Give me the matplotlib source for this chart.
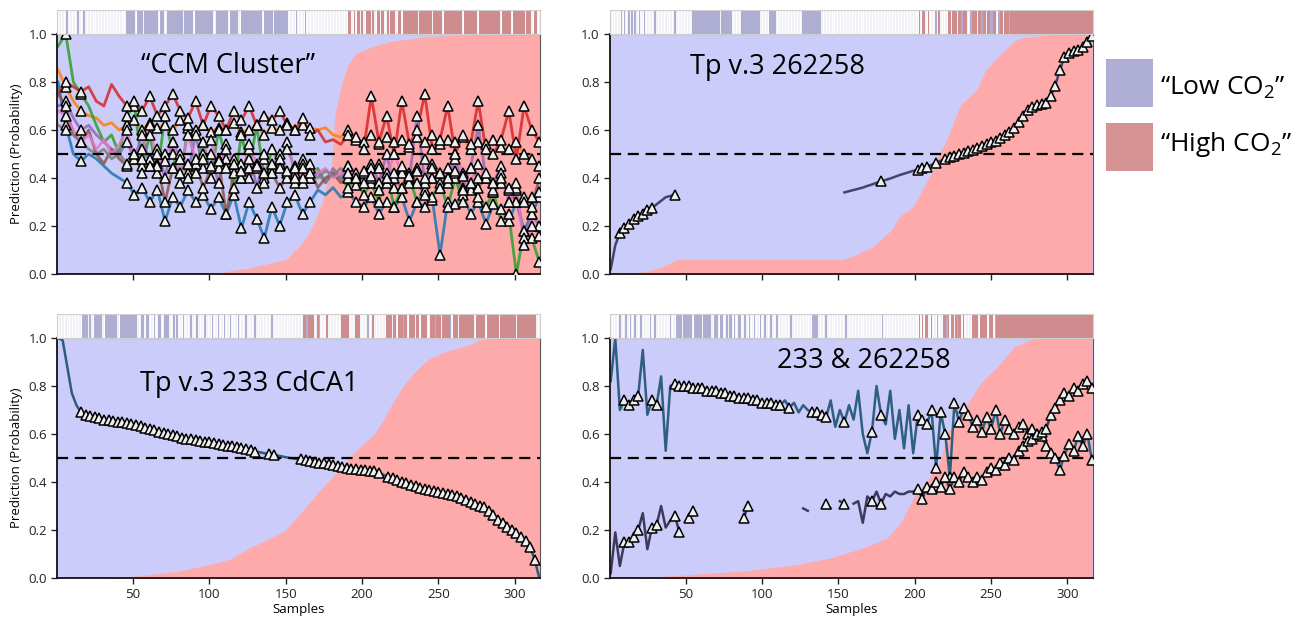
import numpy as np
import matplotlib
matplotlib.use("Agg")
import matplotlib.pyplot as plt
from matplotlib.patches import Rectangle

plt.rcParams["font.family"] = ["Open Sans", "DejaVu Sans"]
plt.rcParams["mathtext.fontset"] = "custom"
plt.rcParams["mathtext.rm"] = "Open Sans"
plt.rcParams["mathtext.it"] = "Open Sans:italic"

nan = np.nan
N = 316

# ---------------- data ----------------
# probability of "High CO2" (red area), knots (sample, value)
TL_RED_X = [1, 100, 126, 150, 161, 166, 173, 180, 182, 187, 191, 196, 208, 220, 243, 267, 316]
TL_RED_Y = [0, 0, 0.025, 0.06, 0.13, 0.18, 0.28, 0.45, 0.66, 0.80, 0.875, 0.92, 0.95, 0.97, 0.99, 0.995, 1.0]
TR_RED_X = [1, 14, 25, 35, 44, 153, 160, 173, 185, 190, 199, 204, 212, 216, 221, 230, 241, 246, 256, 265, 271, 286, 316]
TR_RED_Y = [0, 0.004, 0.011, 0.03, 0.06, 0.06, 0.076, 0.115, 0.185, 0.24, 0.28, 0.34, 0.435, 0.50, 0.56, 0.705,
            0.77, 0.845, 0.915, 0.97, 0.985, 0.995, 1.0]
BL_RED_X = [1, 32, 56, 79, 103, 114, 126, 138, 150, 161, 173, 185, 196, 208, 214, 220, 227, 234, 243, 255, 267, 278, 290, 316]
BL_RED_Y = [0, 0, 0.01, 0.028, 0.06, 0.08, 0.125, 0.16, 0.2, 0.28, 0.37, 0.45, 0.53, 0.6, 0.66, 0.73, 0.8, 0.855,
            0.91, 0.945, 0.965, 0.993, 1.0, 1.0]
BR_RED_X = [1, 14, 46, 90, 123, 145, 166, 182, 190, 196, 199, 208, 217, 221, 232, 243, 254, 265, 276, 286, 316]
BR_RED_Y = [0, 0, 0.011, 0.03, 0.056, 0.084, 0.125, 0.167, 0.223, 0.293, 0.335, 0.405, 0.49, 0.6, 0.7, 0.81,
            0.88, 0.962, 0.993, 1.0, 1.0]

# true class strips (run lengths: w = none, b = low CO2, r = high CO2)
TL_STRIP = ("w6 b1 w6 b1 w3 b1 w27 b6 w1 b4 w1 b9 w1 b3 w2 b10 w1 b6 w1 b12 w2 b8 w1 b5 w2 b14 w1 b6 w1 b9 "
            "w5 b1 w5 b1 w27 r2 w2 r1 w1 r2 w1 r1 w2 r3 w1 r1 w2 r2 w1 r2 w2 r1 w1 r3 w2 r2 w1 r10 w1 r8 w1 "
            "r6 w1 r12 w1 r9 w1 r14 w1 r6 w1 r8 w1 r3 w2 r2 w2")
TR_STRIP = ("w7 b1 w1 b1 w2 b1 w1 b1 w1 b1 w2 b1 w2 b1 w6 b1 w12 b1 w11 b18 w1 b7 w6 b12 w6 b5 w17 b12 w64 "
            "r1 w1 r2 w2 r1 w4 b1 w1 r1 w5 r2 w1 r3 w1 r2 b1 r3 w2 b1 r3 w1 r2 b1 r2 w1 r2 b2 r2 w1 b1 r2 w1 "
            "r3 b1 r1 r53")
BL_STRIP = ("w16 b4 w1 b1 w2 b5 w2 b8 w2 b11 w3 b2 w1 b2 w3 b1 w2 b2 w2 b3 w3 b1 w1 b1 w3 b1 w4 b1 w3 b1 "
            "w4 b1 w4 b1 w3 b1 w3 b1 w3 b1 w4 b1 w4 b1 w5 b1 w10 b1 w20 r2 b1 r4 w2 r1 b1 w4 r1 w9 r5 w4 r3 "
            "w5 b1 w2 r1 w8 r4 w1 r2 w1 r3 b1 r2 w1 r4 w1 r2 w1 r4 w2 r3 b1 r3 w1 r5 b1 w1 r3 w1 r10 w1 r6 "
            "w1 r8 w1 r10 w1 r12 w3")
BR_STRIP = ("w6 b1 w3 b1 w2 b1 w2 b1 w3 b1 w5 b1 w2 b1 w9 b1 w3 b4 w1 b6 w1 b5 w1 b5 w2 b3 w1 b2 w2 b1 w1 "
            "b2 w1 b1 w2 b2 w2 b1 w2 b1 w2 b1 w3 b1 w2 b1 w3 b1 w3 b1 w8 b1 w13 b4 w5 b1 w12 b1 w23 b1 w23 "
            "r1 w1 r1 w1 r2 w2 r1 w3 b1 w3 r2 b1 r1 w1 r2 w1 r1 b1 r2 w1 r1 w5 r4 w1 r5 w1 r3 w1 b1 r63")

# "CCM Cluster" predictions, every 5th sample (1, 6, ..., 316)
TL_X = list(range(1, 317, 5))
CCM_BLUE = [0.80, 0.62, 0.50, 0.47, 0.50, 0.48, 0.45, 0.42,
            0.40, 0.38, 0.33, 0.36, 0.30, 0.35, 0.22, 0.32,
            0.28, 0.35, 0.30, 0.33, 0.27, 0.32, 0.25, 0.33,
            0.19, 0.30, 0.23, 0.15, 0.28, 0.20, 0.30, 0.33,
            0.25, 0.30, 0.35, 0.33, 0.36, 0.32, 0.34, 0.30,
            0.28, 0.32, 0.25, 0.30, 0.28, 0.32, 0.22, 0.30,
            0.28, 0.31, 0.08, 0.30, 0.29, 0.33, 0.25, 0.30,
            0.21, 0.29, 0.27, 0.22, 0.30, 0.18, 0.25, 0.32]
CCM_ORANGE = [0.85, 0.78, 0.72, 0.68, 0.66, 0.65, 0.62, 0.63,
              0.60, 0.62, 0.64, 0.60, 0.63, 0.61, 0.62, 0.60,
              0.64, 0.61, 0.60, 0.62, 0.59, 0.61, 0.60, 0.63,
              0.59, 0.60, 0.62, 0.58, 0.61, 0.60, 0.63, 0.60,
              0.62, 0.61, 0.60, 0.61, 0.58, 0.57, 0.60, 0.56,
              0.55, 0.58, 0.54, 0.57, 0.55, 0.56, 0.53, 0.57,
              0.55, 0.58, 0.54, 0.56, 0.55, 0.57, 0.52, 0.55,
              0.54, 0.56, 0.53, 0.52, 0.55, 0.50, 0.48, 0.45]
CCM_GREEN = [0.95, 1.00, 0.80, 0.75, 0.70, 0.62, 0.55, 0.58,
             0.50, 0.66, 0.70, 0.45, 0.58, 0.42, 0.66, 0.50,
             0.38, 0.62, 0.45, 0.55, 0.40, 0.60, 0.48, 0.36,
             0.58, 0.44, 0.62, 0.40, 0.52, 0.46, 0.55, 0.42,
             0.48, 0.40, 0.44, 0.38, 0.42, 0.40, 0.36, 0.40,
             0.33, 0.38, 0.30, 0.42, 0.28, 0.36, 0.40, 0.30,
             0.35, 0.32, 0.38, 0.28, 0.40, 0.30, 0.35, 0.32,
             0.28, 0.34, 0.22, 0.25, 0.00, 0.18, 0.15, 0.05]
CCM_RED = [0.75, 0.80, 0.78, 0.76, 0.78, 0.72, 0.70, 0.79,
           0.74, 0.70, 0.72, 0.68, 0.74, 0.66, 0.70, 0.75,
           0.68, 0.65, 0.72, 0.62, 0.70, 0.66, 0.60, 0.68,
           0.64, 0.70, 0.62, 0.66, 0.64, 0.68, 0.62, 0.60,
           0.65, 0.58, 0.60, 0.55, 0.56, 0.54, 0.58, 0.57,
           0.52, 0.74, 0.55, 0.66, 0.50, 0.72, 0.54, 0.60,
           0.75, 0.52, 0.56, 0.70, 0.50, 0.58, 0.54, 0.72,
           0.52, 0.50, 0.56, 0.68, 0.48, 0.70, 0.60, 0.55]
CCM_PURPLE = [0.70, 0.72, 0.65, 0.60, 0.62, 0.58, 0.55, 0.52,
              0.50, 0.55, 0.48, 0.58, 0.45, 0.52, 0.40, 0.55,
              0.48, 0.42, 0.58, 0.44, 0.50, 0.38, 0.54, 0.46,
              0.40, 0.52, 0.36, 0.48, 0.44, 0.50, 0.42, 0.38,
              0.46, 0.40, 0.42, 0.38, 0.44, 0.40, 0.45, 0.42,
              0.40, 0.46, 0.38, 0.50, 0.36, 0.44, 0.40, 0.66,
              0.38, 0.46, 0.42, 0.40, 0.48, 0.36, 0.44, 0.62,
              0.40, 0.38, 0.45, 0.30, 0.35, 0.15, 0.25, 0.20]
CCM_BROWN = [0.75, 0.70, 0.58, 0.55, 0.60, 0.50, 0.46, 0.52,
             0.48, 0.45, 0.50, 0.42, 0.48, 0.46, 0.30, 0.44,
             0.50, 0.40, 0.46, 0.36, 0.44, 0.48, 0.25, 0.42,
             0.46, 0.40, 0.44, 0.38, 0.42, 0.36, 0.40, 0.45,
             0.38, 0.44, 0.36, 0.40, 0.42, 0.38, 0.40, 0.37,
             0.42, 0.40, 0.35, 0.38, 0.40, 0.36, 0.42, 0.38,
             0.33, 0.40, 0.36, 0.38, 0.42, 0.35, 0.38, 0.36,
             0.40, 0.34, 0.38, 0.35, 0.30, 0.32, 0.28, 0.40]
CCM_PINK = [0.68, 0.66, 0.60, 0.55, 0.58, 0.52, 0.56, 0.50,
            0.54, 0.60, 0.48, 0.52, 0.62, 0.45, 0.50, 0.55,
            0.42, 0.58, 0.48, 0.50, 0.56, 0.44, 0.52, 0.48,
            0.40, 0.54, 0.46, 0.50, 0.42, 0.48, 0.52, 0.44,
            0.40, 0.46, 0.42, 0.44, 0.40, 0.42, 0.45, 0.40,
            0.38, 0.44, 0.46, 0.40, 0.50, 0.42, 0.38, 0.44,
            0.48, 0.40, 0.36, 0.44, 0.50, 0.42, 0.38, 0.46,
            0.40, 0.35, 0.42, 0.30, 0.36, 0.12, 0.20, 0.16]
CCM_GRAY = [0.62, 0.60, 0.58, 0.55, 0.52, 0.50, 0.52, 0.48,
            0.50, 0.46, 0.50, 0.48, 0.45, 0.50, 0.47, 0.44,
            0.48, 0.46, 0.42, 0.48, 0.45, 0.47, 0.44, 0.46,
            0.43, 0.48, 0.45, 0.42, 0.46, 0.44, 0.43, 0.40,
            0.44, 0.42, 0.40, 0.43, 0.41, 0.44, 0.42, 0.40,
            0.43, 0.41, 0.44, 0.40, 0.42, 0.45, 0.41, 0.43,
            0.40, 0.44, 0.42, 0.40, 0.43, 0.41, 0.44, 0.40,
            0.42, 0.38, 0.40, 0.36, 0.38, 0.30, 0.32, 0.34]

# single-gene predictions, every 3rd sample (1, 4, ..., 316)
X3 = list(range(1, 317, 3))
TP262258 = [0.02, 0.12, 0.17, 0.19, 0.21, 0.23, 0.24, 0.25, 0.265, 0.275,
            0.29, 0.305, 0.32, 0.325, 0.33, nan, nan, nan, nan, nan,
            nan, nan, nan, nan, nan, nan, nan, nan, nan, nan,
            nan, nan, nan, nan, nan, nan, nan, nan, nan, nan,
            nan, nan, nan, nan, nan, nan, nan, nan, nan, nan,
            nan, 0.34, 0.345, 0.35, 0.355, 0.36, 0.367, 0.373, 0.38, 0.386,
            0.392, 0.398, 0.405, 0.412, 0.418, 0.424, 0.43, 0.434, 0.44, 0.446,
            0.455, 0.463, 0.472, 0.48, 0.486, 0.492, 0.498, 0.505, 0.512, 0.518,
            0.524, 0.532, 0.54, 0.548, 0.556, 0.566, 0.578, 0.592, 0.61, 0.635,
            0.66, 0.685, 0.695, 0.705, 0.708, 0.712, 0.74, 0.785, 0.85, 0.905,
            0.92, 0.928, 0.935, 0.945, 0.965, 0.99]
TP233 = [1.00, 0.99, 0.88, 0.77, 0.72, 0.69, 0.68, 0.675, 0.67, 0.665,
         0.66, 0.658, 0.655, 0.65, 0.648, 0.645, 0.64, 0.637, 0.632, 0.626,
         0.62, 0.615, 0.61, 0.605, 0.60, 0.595, 0.59, 0.585, 0.58, 0.578,
         0.575, 0.572, 0.568, 0.565, 0.562, 0.558, 0.555, 0.552, 0.548, 0.545,
         0.541, 0.537, 0.533, 0.527, 0.524, 0.52, 0.516, 0.513, 0.51, 0.506,
         0.502, 0.499, 0.496, 0.494, 0.49, 0.487, 0.484, 0.481, 0.478, 0.474,
         0.47, 0.466, 0.462, 0.459, 0.456, 0.453, 0.45, 0.448, 0.446, 0.444,
         0.438, 0.43, 0.422, 0.415, 0.408, 0.40, 0.394, 0.388, 0.382, 0.376,
         0.37, 0.366, 0.362, 0.358, 0.355, 0.35, 0.345, 0.34, 0.332, 0.325,
         0.318, 0.31, 0.302, 0.295, 0.28, 0.262, 0.242, 0.228, 0.212, 0.198,
         0.188, 0.172, 0.155, 0.13, 0.075, 0.0]
BOTH_233 = [0.82, 1.00, 0.70, 0.74, 0.72, 0.74, 0.76, 0.95, 0.68, 0.74,
            0.72, 0.84, 0.53, 0.80, 0.81, 0.80, 0.80, 0.80, 0.79, 0.79,
            0.79, 0.78, 0.78, 0.78, 0.77, 0.77, 0.76, 0.76, 0.75, 0.75,
            0.75, 0.74, 0.74, 0.73, 0.73, 0.73, 0.72, 0.72, 0.74, 0.71,
            0.73, 0.69, 0.72, 0.70, 0.69, 0.69, 0.68, 0.67, 0.74, 0.63,
            0.70, 0.65, 0.72, 0.66, 0.78, 0.60, 0.52, 0.61, 0.80, 0.68,
            0.64, 0.78, 0.58, 0.70, 0.54, 0.72, 0.52, 0.68, 0.66, 0.64,
            0.70, 0.46, 0.69, 0.60, 0.42, 0.73, 0.65, 0.71, 0.68, 0.63,
            0.66, 0.61, 0.67, 0.62, 0.70, 0.60, 0.66, 0.62, 0.60, 0.63,
            0.64, 0.60, 0.62, 0.60, 0.59, 0.55, 0.52, 0.50, 0.45, 0.51,
            0.56, 0.53, 0.59, 0.55, 0.60, 0.49]
BOTH_262258 = [0.02, 0.19, 0.05, 0.15, 0.15, 0.17, 0.20, 0.27, 0.12, 0.21,
               0.22, 0.30, 0.21, 0.24, 0.26, 0.19, nan, 0.25, 0.28, nan,
               nan, nan, nan, nan, nan, nan, nan, nan, nan, 0.25,
               0.30, nan, nan, nan, nan, nan, nan, nan, nan, nan,
               nan, nan, 0.29, 0.28, nan, nan, nan, 0.31, 0.29, nan,
               0.32, 0.31, nan, 0.31, 0.32, 0.23, 0.34, 0.32, 0.36, 0.31,
               0.35, 0.34, 0.36, 0.35, 0.35, 0.36, 0.36, 0.37, 0.33, 0.38,
               0.37, 0.40, 0.38, 0.42, 0.37, 0.42, 0.40, 0.44, 0.42, 0.40,
               0.42, 0.41, 0.44, 0.46, 0.45, 0.48, 0.47, 0.50, 0.49, 0.53,
               0.55, 0.57, 0.58, 0.60, 0.61, 0.62, 0.68, 0.71, 0.74, 0.77,
               0.76, 0.79, 0.78, 0.81, 0.82, 0.79]

# sample ranges that carry a marker (labelled samples)
TL_MARKS = [(6, 6), (16, 16), (46, 166), (191, 316)]
TR_MARKS = [(7, 28), (43, 43), (178, 178), (202, 208), (214, 214), (220, 316)]
BL_MARKS = [(16, 130), (139, 142), (160, 211), (216, 313)]
BR_MARKS = [(10, 19), (28, 31), (43, 112), (118, 118), (133, 142), (154, 154), (172, 172), (178, 178), (202, 316)]

# ---------------- style ----------------
BG_BLUE = "#ccccfa"
BG_RED = "#ffaaaa"
STRIP_COL = {"b": "#aeaed3", "r": "#cf8c8e"}
TAB = ["tab:blue", "tab:orange", "tab:green", "tab:red", "tab:purple", "tab:brown", "tab:pink", "tab:gray"]


def expand(runs):
    labels = []
    for tok in runs.split():
        labels += [tok[0]] * int(tok[1:])
    return (labels + ["w"] * N)[:N]


def in_marks(x, marks):
    x = np.asarray(x)
    m = np.zeros(len(x), bool)
    for a, b in marks:
        m |= (x >= a) & (x <= b)
    return m


def draw_strip(ax, runs):
    labels = expand(runs)
    s = np.arange(1, N + 1)
    w = np.array([l == "w" for l in labels])
    ax.bar(s[w], 1, width=1, color="white", edgecolor="#ebebf3", lw=0.4)
    for k, c in STRIP_COL.items():
        sel = np.array([l == k for l in labels])
        ax.bar(s[sel], 1, width=1, color=c, lw=0)
    ax.set_xlim(0.5, N + 0.5)
    ax.set_ylim(0, 1)
    ax.set_xticks([])
    ax.set_yticks([])
    for sp in ax.spines.values():
        sp.set_color("#cfcfcf")
        sp.set_linewidth(0.8)


def draw_main(ax, red_x, red_y, x, series, marks, title, tpos, left, bottom):
    ax.set_facecolor(BG_BLUE)
    ax.fill_between(red_x, 0, red_y, color=BG_RED, lw=0, zorder=0)
    x = np.asarray(x)
    for y, c, lw, a in series:
        ax.plot(x, y, color=c, lw=lw, alpha=a, zorder=2)
    ax.axhline(0.5, color="black", lw=1.6, ls=(0, (5, 3)), zorder=3)
    mk = in_marks(x, marks)
    for y, c, lw, a in series:
        y = np.asarray(y, float)
        m = mk & ~np.isnan(y)
        ax.plot(x[m], y[m], ls="none", marker="^", ms=6.5, mfc="#eeeeee", mec="black",
                mew=1.1, zorder=4)
    ax.set_xlim(0.5, N + 0.5)
    ax.set_ylim(0, 1)
    ax.set_xticks([50, 100, 150, 200, 250, 300])
    ax.set_yticks([0, 0.2, 0.4, 0.6, 0.8, 1.0])
    ax.set_yticklabels(["0.0", "0.2", "0.4", "0.6", "0.8", "1.0"])
    ax.tick_params(labelsize=9.5, colors="#222222", length=4, width=1)
    if not bottom:
        ax.set_xticklabels([])
    else:
        ax.set_xlabel("Samples", fontsize=9.5, labelpad=1)
    if left:
        ax.set_ylabel("Prediction (Probability)", fontsize=9.5)
    for k in ["left", "bottom"]:
        ax.spines[k].set_color("#111111")
        ax.spines[k].set_linewidth(1.3)
    for k in ["top", "right"]:
        ax.spines[k].set_color("#555555")
        ax.spines[k].set_linewidth(0.8)
    ax.text(tpos[0], tpos[1], title, transform=ax.transAxes, ha="center", va="center",
            fontsize=19.5, zorder=5)


fig = plt.figure(figsize=(13.03, 6.17), dpi=100)

XL, XR, W = 0.044, 0.4681, 0.3705
YT, YB, H = 0.5559, 0.0632, 0.389
SH = 0.0389

panels = [
    (XL, YT, TL_STRIP, TL_RED_X, TL_RED_Y, TL_X,
     [(v, TAB[i], 2.0, 0.85) for i, v in enumerate(
         [CCM_BLUE, CCM_ORANGE, CCM_GREEN, CCM_RED, CCM_PURPLE, CCM_BROWN, CCM_PINK, CCM_GRAY])],
     TL_MARKS, "\u201cCCM Cluster\u201d", (0.353, 0.867), True, False),
    (XR, YT, TR_STRIP, TR_RED_X, TR_RED_Y, X3,
     [(TP262258, "#44446e", 1.8, 1.0)],
     TR_MARKS, "Tp v.3 262258", (0.347, 0.864), False, False),
    (XL, YB, BL_STRIP, BL_RED_X, BL_RED_Y, X3,
     [(TP233, "#2f5b7b", 1.8, 1.0)],
     BL_MARKS, "Tp v.3 233 CdCA1", (0.398, 0.81), True, True),
    (XR, YB, BR_STRIP, BR_RED_X, BR_RED_Y, X3,
     [(BOTH_233, "#2f5f80", 1.8, 1.0), (BOTH_262258, "#3d3a5c", 1.8, 1.0)],
     BR_MARKS, "233 & 262258", (0.526, 0.905), False, True),
]

for x0, y0, strip, rx, ry, xs, series, marks, title, tpos, left, bottom in panels:
    ax = fig.add_axes([x0, y0, W, H])
    draw_main(ax, rx, ry, xs, series, marks, title, tpos, left, bottom)
    sax = fig.add_axes([x0, y0 + H, W, SH])
    draw_strip(sax, strip)

# legend
fig.add_artist(Rectangle((0.8488, 0.8266), 0.0361, 0.0778, transform=fig.transFigure,
                         facecolor="#afafd6", edgecolor="none"))
fig.add_artist(Rectangle((0.8488, 0.7228), 0.0361, 0.0778, transform=fig.transFigure,
                         facecolor="#d59394", edgecolor="none"))
fig.text(0.8903, 0.8460, "\u201cLow CO$_2$\u201d", fontsize=19, va="baseline")
fig.text(0.8903, 0.7550, "\u201cHigh CO$_2$\u201d", fontsize=19, va="baseline")

fig.savefig("out.png", dpi=100)
